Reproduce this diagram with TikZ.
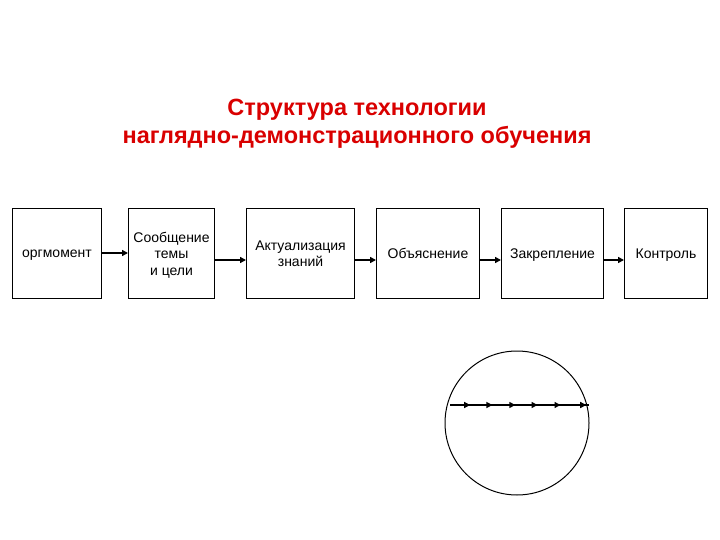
\documentclass[tikz,border=0pt]{standalone}
\usepackage{fontspec}
\setmainfont{Liberation Sans}
\usetikzlibrary{arrows.meta,decorations.markings}
\begin{document}
\begin{tikzpicture}[x=1pt,y=-1pt,
  box/.style={draw,line width=1pt,anchor=north west,inner sep=0pt,align=center,font=\fontsize{14}{16.5}\selectfont,text depth=0pt},
  conn/.style={line width=1.6pt,-{Triangle[length=6pt,width=6pt]}}]
\useasboundingbox (0,0) rectangle (720,540);
\node[font=\bfseries\fontsize{23.5}{28}\selectfont,text=red!85!black,align=center] (t) at (357,124) {Структура технологии\\наглядно-демонстрационного обучения};
\node[box,minimum width=89,minimum height=90] (b1) at (12,208) {оргмомент};
\node[box,minimum width=86,minimum height=90] (b2) at (128,208) {Сообщение\\темы\\и цели};
\node[box,minimum width=108,minimum height=90] (b3) at (246,208) {Актуализация\\знаний};
\node[box,minimum width=103,minimum height=90] (b4) at (376,208) {Объяснение};
\node[box,minimum width=102,minimum height=90] (b5) at (501,208) {Закрепление};
\node[box,minimum width=83,minimum height=90] (b6) at (624,208) {Контроль};
\draw[conn] (b1.east|-0,253) -- (b2.west|-0,253);
\draw[conn] (b2.east|-0,260) -- (b3.west|-0,260);
\draw[conn] (b3.east|-0,260) -- (b4.west|-0,260);
\draw[conn] (b4.east|-0,260) -- (b5.west|-0,260);
\draw[conn] (b5.east|-0,260) -- (b6.west|-0,260);
\node[draw,circle,line width=1pt,minimum size=144,inner sep=0pt] (c) at (517,423) {};
\coordinate (l1) at (450,405);
\coordinate (l2) at (589,405);
\draw[line width=1.4pt,postaction={decorate},decoration={markings,
  mark=at position 0.145 with {\arrow{Triangle[length=6pt,width=6pt]}},
  mark=at position 0.305 with {\arrow{Triangle[length=6pt,width=6pt]}},
  mark=at position 0.47 with {\arrow{Triangle[length=6pt,width=6pt]}},
  mark=at position 0.63 with {\arrow{Triangle[length=6pt,width=6pt]}},
  mark=at position 0.795 with {\arrow{Triangle[length=6pt,width=6pt]}},
  mark=at position 0.98 with {\arrow{Triangle[length=6pt,width=6pt]}}}] (l1) -- (l2);
\end{tikzpicture}
\end{document}
